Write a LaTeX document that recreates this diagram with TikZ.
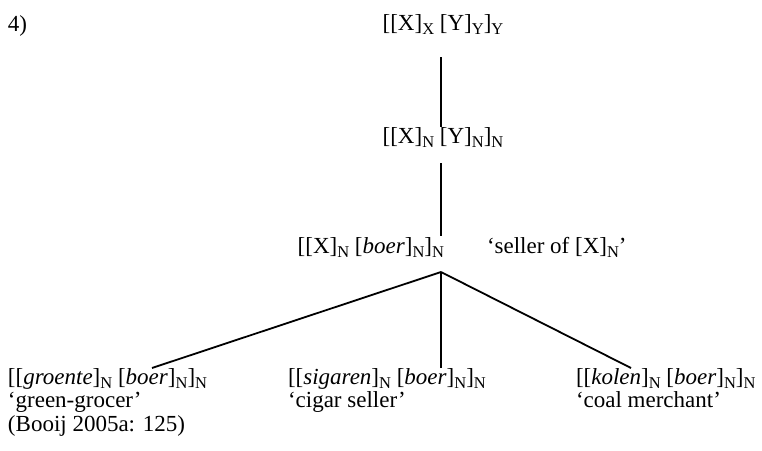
\documentclass[tikz,border=0pt]{standalone}
\usepackage{fontspec}
\setmainfont{Liberation Serif}
\newcommand{\sbx}[1]{\raisebox{-4pt}{\fontsize{16.5pt}{16.5pt}\selectfont #1}}
\tikzset{
  lbl/.style={anchor=base west, inner sep=0pt, outer sep=0pt, font=\fontsize{23pt}{23.5pt}\selectfont},
  col/.style={lbl, anchor=north west, align=left},
  edge/.style={line width=1.8pt}
}
\begin{document}
\begin{tikzpicture}[x=1pt, y=-1pt]
\useasboundingbox (0,0) rectangle (762,450);
\node[lbl] (num) at (8,31) {4)};
\node[lbl, anchor=base] (n1) at (443,30) {[[X]\sbx{X} [Y]\sbx{Y}]\sbx{Y}};
\node[lbl, anchor=base] (n2) at (443,143) {[[X]\sbx{N} [Y]\sbx{N}]\sbx{N}};
\node[lbl, anchor=base east] (n3) at (444,253) {[[X]\sbx{N} [\textit{boer}]\sbx{N}]\sbx{N}};
\node[lbl] (gloss) at (487,253) {‘seller of [X]\sbx{N}’};
\node[col] (b1) at (8,368.5) {[[\textit{groente}]\sbx{N} [\textit{boer}]\sbx{N}]\sbx{N}\\‘green-grocer’\\(Booij 2005a: 125)};
\node[col] (b2) at (288,368.5) {[[\textit{sigaren}]\sbx{N} [\textit{boer}]\sbx{N}]\sbx{N}\\‘cigar seller’};
\node[col] (b3) at (576,368.5) {[[\textit{kolen}]\sbx{N} [\textit{boer}]\sbx{N}]\sbx{N}\\‘coal merchant’};
\coordinate (p1) at (441,57);
\coordinate (p2) at (441,127);
\coordinate (p3) at (441,163);
\coordinate (p4) at (441,236);
\coordinate (br) at (441,272);
\coordinate (e1) at (152,368);
\coordinate (e2) at (441,368);
\coordinate (e3) at (631,368);
\draw[edge] (p1) -- (p2);
\draw[edge] (p3) -- (p4);
\draw[edge] (br) -- (e1);
\draw[edge] (br) -- (e2);
\draw[edge] (br) -- (e3);
\end{tikzpicture}
\end{document}
